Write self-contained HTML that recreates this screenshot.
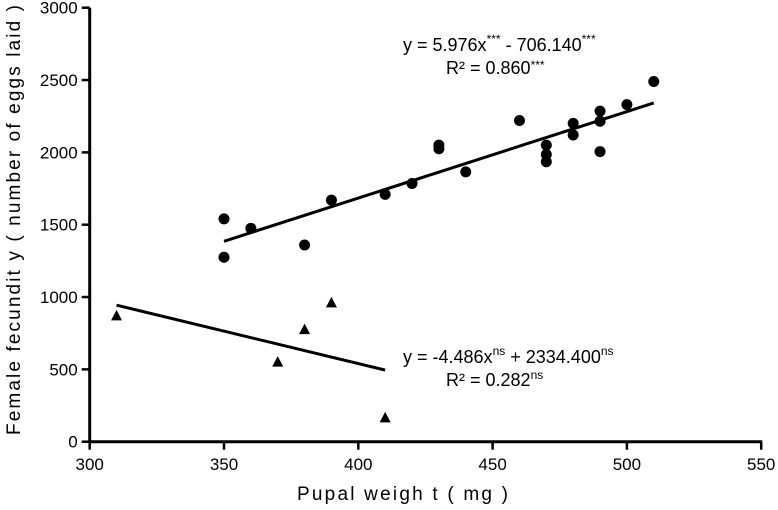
<!DOCTYPE html>
<html><head><meta charset="utf-8"><style>
html,body{margin:0;padding:0;background:#fff;}
svg text{font-family:"Liberation Sans",Arial,sans-serif;fill:#000;}
</style></head><body>
<svg id="chart" width="778" height="505" viewBox="0 0 778 505" xmlns="http://www.w3.org/2000/svg">
<g id="axes"></g>
<g id="marks"></g>
<text x="403" y="51" font-size="18">y = 5.976x<tspan dy="-8" font-size="12">***</tspan><tspan dy="8"> - 706.140</tspan><tspan dy="-8" font-size="12">***</tspan></text>
<text x="446" y="74" font-size="18">R² = 0.860<tspan dy="-5" font-size="12">***</tspan></text>
<text x="403" y="363" font-size="18">y = -4.486x<tspan dy="-8" font-size="12">ns</tspan><tspan dy="8"> + 2334.400</tspan><tspan dy="-8" font-size="12">ns</tspan></text>
<text x="446" y="386" font-size="18">R² = 0.282<tspan dy="-7" font-size="12">ns</tspan></text>
<text x="297" y="500" font-size="19" textLength="211" lengthAdjust="spacing">Pupal  weigh t ( mg )</text>
<text transform="translate(20,435) rotate(-90)" font-size="19" textLength="430" lengthAdjust="spacing">Female fecundit y ( number of eggs laid )</text>
</svg>
<script>
const xTicks=[300,350,400,450,500,550];
const yTicks=[0,500,1000,1500,2000,2500,3000];
const circleX=[350,350,360,380,390,410,420,430,430,440,460,470,470,470,480,480,490,490,490,500,510];
const circleY=[1540,1275,1475,1360,1670,1710,1785,2050,2025,1865,2220,2050,1985,1935,2200,2120,2285,2215,2005,2330,2490];
const triX=[310,370,380,390,410];
const triY=[870,550,775,960,165];
const fitCircles=[5.976,-706.14,350,510];
const fitTriangles=[-4.486,2334.4,310,410];
const NS='http://www.w3.org/2000/svg';
const xs=v=>89.7+(v-300)*134.3/50;
const ys=v=>441.7-v*434/3000;
const axes=document.getElementById('axes'),marks=document.getElementById('marks');
function mk(tag,attrs,parent){const e=document.createElementNS(NS,tag);for(const k in attrs)e.setAttribute(k,attrs[k]);parent.appendChild(e);return e;}
let l=mk('line',{x1:xs(300),y1:ys(0),x2:xs(550)+1,y2:ys(0),stroke:'#000','stroke-width':3},axes);


l=mk('line',{x1:xs(300),y1:ys(0)+1,x2:xs(300),y2:ys(3000),stroke:'#000','stroke-width':3},axes);


xTicks.forEach(t=>{
 const k=mk('line',{x1:xs(t),y1:ys(0),x2:xs(t),y2:ys(0)+8,stroke:'#000','stroke-width':2.5},axes);
 
 
 const tx=mk('text',{x:xs(t),y:470,'font-size':17,'text-anchor':'middle'},axes);tx.textContent=t;
 
 
});
yTicks.forEach(t=>{
 const k=mk('line',{x1:xs(300)-8,y1:ys(t),x2:xs(300),y2:ys(t),stroke:'#000','stroke-width':2.5},axes);
 
 
 const tx=mk('text',{x:xs(300)-12,y:ys(t)+6,'font-size':17,'text-anchor':'end'},axes);tx.textContent=t;
 
 
});
[fitCircles,fitTriangles].forEach((f,i)=>{
 const e=mk('line',{x1:xs(f[2]),y1:ys(f[0]*f[2]+f[1]),x2:xs(f[3]),y2:ys(f[0]*f[3]+f[1]),stroke:'#000','stroke-width':3},marks);
 
 
});
circleX.forEach((x,i)=>{
 const c=mk('circle',{cx:xs(x),cy:ys(circleY[i]),r:5.5,fill:'#000'},marks);
 
 
});
triX.forEach((x,i)=>{
 const cx=xs(x),cy=ys(triY[i]);
 const p=mk('polygon',{points:`${cx},${cy-6} ${cx-5.5},${cy+4.5} ${cx+5.5},${cy+4.5}`,fill:'#000'},marks);
 
 
});
</script>
</body></html>
